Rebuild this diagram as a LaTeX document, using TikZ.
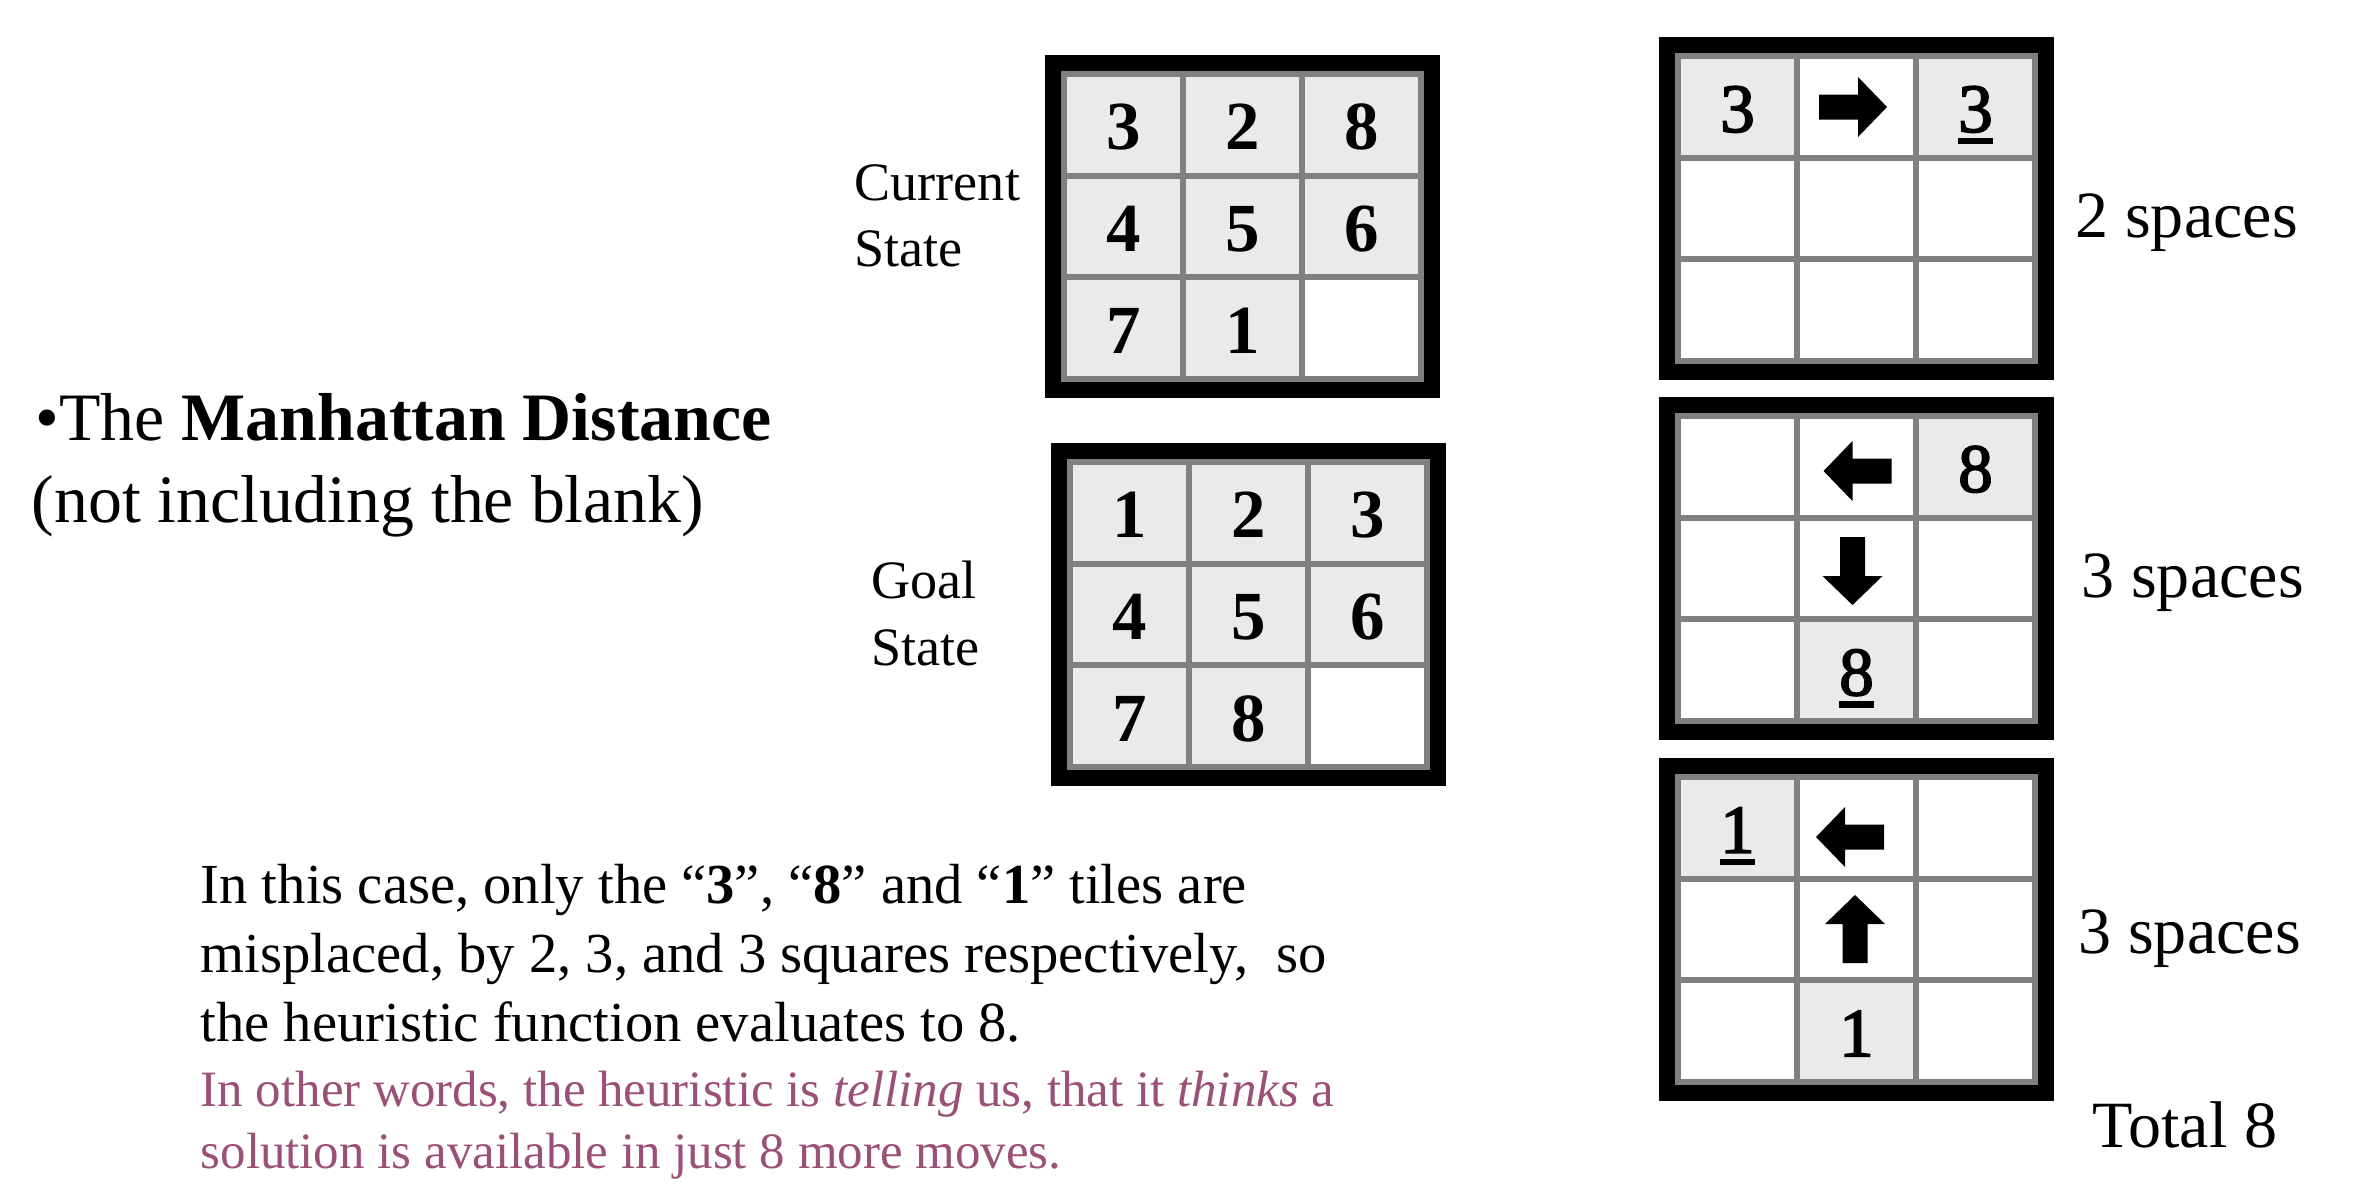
\documentclass[tikz,border=0pt]{standalone}
\usepackage{fontspec}
\setmainfont{Liberation Serif}
\newfontface\semibold[FakeBold=2.5]{Liberation Serif}
\definecolor{gridgray}{RGB}{128,128,128}
\definecolor{tilegray}{RGB}{234,234,234}
\definecolor{mauve}{RGB}{155,80,120}
\newcommand\tilefont{\fontsize{19.6}{20}\selectfont}
\newcommand\titlefont{\fontsize{19.3}{22}\selectfont}
\newcommand\labelfont{\fontsize{15.4}{16}\selectfont}
\newcommand\sidefont{\fontsize{18.8}{20}\selectfont}
\newcommand\bodyfont{\fontsize{16.1}{18}\selectfont}
\newcommand\notefont{\fontsize{14.5}{16}\selectfont}
% frame of a 3x3 puzzle, top-left corner X Y (px)
\newcommand\pzframe[2]{%
  \fill[black] (#1,#2) rectangle ++(395,343);
  \fill[gridgray] ({#1+16},{#2+16}) rectangle ++(363,311);
  \foreach \r in {0,1,2}{\foreach \c in {0,1,2}{%
    \fill[white] ({#1+22+119*\c},{#2+22+101.7*\r}) rectangle ++(113,95.7);}}}
% tile: name X Y r c text style
\newcommand\pzcell[7]{%
  \fill[tilegray] ({#2+22+119*#5},{#3+22+101.7*#4}) rectangle ++(113,95.7);
  \node[#7] (#1) at ({#2+78.5+119*#5},{#3+94.85+101.7*#4}) {#6};}
\newcommand\pzunder[1]{%
  \fill ([yshift=-0.6mm]#1.base west) rectangle ([yshift=-1.25mm]#1.base east);}
\newcommand\arrRight[2]{\fill[shift={(#1,#2)}] (-34,-12.5) -- (5,-12.5) -- (5,-30) -- (34,0) -- (5,30) -- (5,12.5) -- (-34,12.5) -- cycle;}
\newcommand\arrLeft[2]{\fill[shift={(#1,#2)}] (34,-12.5) -- (-5,-12.5) -- (-5,-30) -- (-34,0) -- (-5,30) -- (-5,12.5) -- (34,12.5) -- cycle;}
\newcommand\arrDown[2]{\fill[shift={(#1,#2)}] (-12.5,-34) -- (-12.5,5) -- (-30,5) -- (0,34) -- (30,5) -- (12.5,5) -- (12.5,-34) -- cycle;}
\newcommand\arrUp[2]{\fill[shift={(#1,#2)}] (-12.5,34) -- (-12.5,-5) -- (-30,-5) -- (0,-34) -- (30,-5) -- (12.5,-5) -- (12.5,34) -- cycle;}
\begin{document}
\begin{tikzpicture}[x=0.1mm,y=-0.1mm,
  boldnum/.style={inner sep=0pt,anchor=base,font=\tilefont\bfseries},
  plainnum/.style={inner sep=0pt,anchor=base,font=\semibold\tilefont},
  txt/.style={inner sep=0pt,anchor=base west}]
\useasboundingbox[fill=white] (0,0) rectangle (2362,1185);

% Current state
\pzframe{1045}{55}
\pzcell{c00}{1045}{55}{0}{0}{3}{boldnum}
\pzcell{c01}{1045}{55}{0}{1}{2}{boldnum}
\pzcell{c02}{1045}{55}{0}{2}{8}{boldnum}
\pzcell{c10}{1045}{55}{1}{0}{4}{boldnum}
\pzcell{c11}{1045}{55}{1}{1}{5}{boldnum}
\pzcell{c12}{1045}{55}{1}{2}{6}{boldnum}
\pzcell{c20}{1045}{55}{2}{0}{7}{boldnum}
\pzcell{c21}{1045}{55}{2}{1}{1}{boldnum}

% Goal state
\pzframe{1051}{443}
\pzcell{g00}{1051}{443}{0}{0}{1}{boldnum}
\pzcell{g01}{1051}{443}{0}{1}{2}{boldnum}
\pzcell{g02}{1051}{443}{0}{2}{3}{boldnum}
\pzcell{g10}{1051}{443}{1}{0}{4}{boldnum}
\pzcell{g11}{1051}{443}{1}{1}{5}{boldnum}
\pzcell{g12}{1051}{443}{1}{2}{6}{boldnum}
\pzcell{g20}{1051}{443}{2}{0}{7}{boldnum}
\pzcell{g21}{1051}{443}{2}{1}{8}{boldnum}

% tile 3
\pzframe{1659}{37}
\pzcell{a00}{1659}{37}{0}{0}{3}{plainnum}
\pzcell{a02}{1659}{37}{0}{2}{3}{plainnum}
\pzunder{a02}
\arrRight{1853}{107}

% tile 8
\pzframe{1659}{397}
\pzcell{b02}{1659}{397}{0}{2}{8}{plainnum}
\pzcell{b21}{1659}{397}{2}{1}{8}{plainnum}
\pzunder{b21}
\arrLeft{1857.5}{471}
\arrDown{1852.5}{571}

% tile 1
\pzframe{1659}{758}
\pzcell{d00}{1659}{758}{0}{0}{1}{plainnum}
\pzunder{d00}
\pzcell{d21}{1659}{758}{2}{1}{1}{plainnum}
\arrLeft{1850}{837}
\arrUp{1855}{929}

% labels
\node[txt,font=\labelfont] (cur1) at (854,200) {Current};
\node[txt,font=\labelfont] (cur2) at (854,266) {State};
\node[txt,font=\labelfont] (goal1) at (871,598) {Goal};
\node[txt,font=\labelfont] (goal2) at (871,665) {State};

\node[txt,font=\sidefont] (s1) at (2075,237) {2 spaces};
\node[txt,font=\sidefont] (s2) at (2081,597) {3 spaces};
\node[txt,font=\sidefont] (s3) at (2078,953) {3 spaces};
\node[txt,font=\sidefont] (tot) at (2092,1147) {Total 8};

% title
\node[txt,font=\titlefont] (t1) at (35,440) {•The \textbf{Manhattan Distance}};
\node[txt,font=\titlefont] (t2) at (31,522) {(not including the blank)};

% explanation
\node[txt,font=\bodyfont] (e1) at (200,903) {In this case, only the “\textbf{3}”, “\textbf{8}” and “\textbf{1}” tiles are};
\node[txt,font=\bodyfont] (e2) at (200,972) {misplaced, by 2, 3, and 3 squares respectively,\ \ so};
\node[txt,font=\bodyfont] (e3) at (200,1041) {the heuristic function evaluates to 8.};
\node[txt,font=\notefont,text=mauve] (e4) at (200,1106) {In other words, the heuristic is \textit{telling} us, that it \textit{thinks} a};
\node[txt,font=\notefont,text=mauve] (e5) at (200,1168) {solution is available in just 8 more moves.};
\end{tikzpicture}
\end{document}
